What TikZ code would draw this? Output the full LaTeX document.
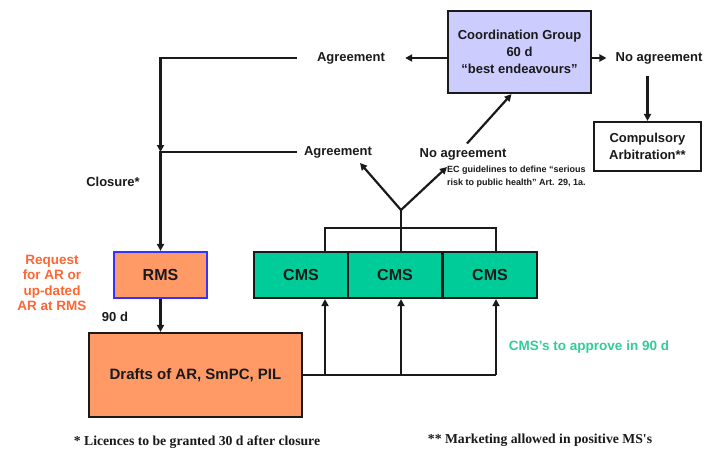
\documentclass[tikz,border=0pt]{standalone}
\usepackage{fontspec}
\setmainfont{Liberation Sans}
\newfontfamily\notefont{Liberation Serif}
\usetikzlibrary{arrows.meta}
\definecolor{lav}{HTML}{CCCCFF}
\definecolor{cmsgreen}{HTML}{00CC99}
\definecolor{orng}{HTML}{FF9966}
\definecolor{reqred}{HTML}{FF6633}
\definecolor{aprgreen}{HTML}{33CC99}
\definecolor{rmsblue}{HTML}{3333FF}
\definecolor{ink}{HTML}{1A1A1A}

\begin{document}
\begin{tikzpicture}[x=1pt,y=-1pt,
  wire/.style={draw=ink, line width=2.2pt},
  arr/.style={wire, -{Triangle[length=7pt,width=7pt]}},
  lbl/.style={text=ink, font=\bfseries\fontsize{13}{17}\selectfont, inner sep=0pt, align=center},
  box/.style={draw=ink, line width=2.2pt, text=ink, font=\bfseries\fontsize{13}{17}\selectfont, align=center, inner sep=0pt},
  big/.style={font=\bfseries\fontsize{16}{18}\selectfont},
  note/.style={text=ink, inner sep=0pt, font=\notefont\bfseries\fontsize{13.7}{15}\selectfont},
]
\useasboundingbox[fill=white] (0,0) rectangle (706,450);

% coordination group and its outcomes
\node[box, fill=lav, minimum width=143pt, minimum height=82pt] (coord) at (519.5,52)
  {Coordination Group\\60 d\\``best endeavours''};
\node[lbl, inner xsep=20pt] (agr1) at (351,58) {Agreement};
\node[lbl, inner xsep=9pt] (nag1) at (659,58) {No agreement};
\node[box, minimum width=107pt, minimum height=49pt] (arb) at (647.5,146.5) {Compulsory\\Arbitration**};

% first round outcomes
\node[lbl, inner xsep=7pt] (agr2) at (338,152) {Agreement};
\node[lbl] (nag2) at (463,154) {No agreement};
\node[lbl, font=\bfseries\fontsize{9}{13}\selectfont, align=left, anchor=north west] (ec) at (447,166)
  {EC guidelines to define ``serious\\risk to public health'' Art. 29, 1a.};

% left column
\node[lbl] (clo) at (113,182) {Closure*};
\node[lbl, text=reqred, font=\bfseries\fontsize{13.5}{15.5}\selectfont] (req) at (52,283)
  {Request\\for AR or\\up-dated\\AR at RMS};
\node[box, big, draw=rmsblue, fill=orng, minimum width=93pt, minimum height=46pt] (rms) at (160.5,275) {RMS};
\node[lbl] (d90) at (115,317) {90 d};
\node[box, fill=orng, font=\bfseries\fontsize{15}{18}\selectfont, minimum width=213pt, minimum height=84pt] (drf) at (195.5,375)
  {Drafts of AR, SmPC, PIL};

% concerned member states
\node[box, big, fill=cmsgreen, minimum width=94pt, minimum height=46pt] (cms1) at (301,275) {CMS};
\node[box, big, fill=cmsgreen, minimum width=94pt, minimum height=46pt] (cms2) at (395,275) {CMS};
\node[box, big, fill=cmsgreen, minimum width=94pt, minimum height=46pt] (cms3) at (490,275) {CMS};
\node[lbl, text=aprgreen, font=\bfseries\fontsize{13.5}{16}\selectfont] (apr) at (589,347) {CMS's to approve in 90 d};

% footnotes
\node[note] (fn1) at (197,442) {* Licences to be granted 30 d after closure};
\node[note] (fn2) at (540,440) {** Marketing allowed in positive MS's};

% routing points
\coordinate (cornerA) at (160.5,58);
\coordinate (joinB) at (160.5,152);
\coordinate (fork) at (401,210);
\coordinate (tipL) at (360,163);
\coordinate (tipR) at (447,167);
\coordinate (busL) at (325,228);
\coordinate (busM) at (401,228);
\coordinate (busR) at (496,228);

% connectors
\draw[arr] (agr1.east -| coord.west) -- (agr1.east);
\draw[arr] (agr1.west) -- (cornerA) -- (joinB);
\draw[arr] (agr2.west) -- (joinB) -- (rms.north);
\draw[arr] (nag1.west -| coord.east) -- (nag1.west);
\draw[arr, shorten <=12pt] (nag1.south -| arb.north) -- (arb.north);
\draw[arr, shorten <=6pt] (nag2.north) -- ([xshift=-8pt]coord.south);
\draw[arr] (fork) -- (tipL);
\draw[arr] (fork) -- (tipR);
\draw[wire] (fork) -- (busM |- cms2.north);
\draw[wire] (busL |- cms1.north) -- (busL) -- (busR) -- (busR |- cms3.north);
\draw[arr] (rms.south) -- (rms.south |- drf.north);
\draw[wire] (drf.east) -- (drf.east -| busR);
\draw[arr] (drf.east -| busL) -- (busL |- cms1.south);
\draw[arr] (drf.east -| busM) -- (busM |- cms2.south);
\draw[arr] (drf.east -| busR) -- (busR |- cms3.south);
\end{tikzpicture}
\end{document}
